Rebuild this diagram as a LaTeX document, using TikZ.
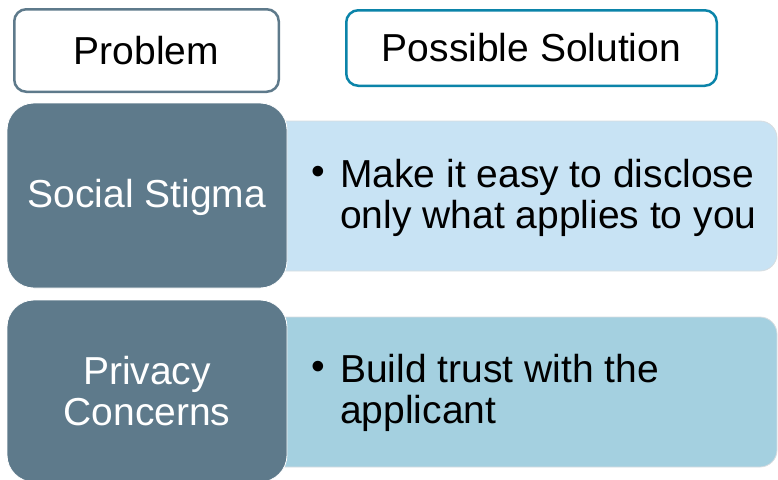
\documentclass[tikz,border=0pt]{standalone}
\usepackage{fontspec}
\setmainfont{Liberation Sans}
\definecolor{slate}{HTML}{5E7A8B}
\definecolor{solborder}{HTML}{0B84A9}
\definecolor{paleblue}{HTML}{C8E3F4}
\definecolor{midblue}{HTML}{A4D0E0}
\definecolor{edgegray}{HTML}{D8DDE0}
\newcommand{\bigtext}{\fontsize{39pt}{40.5pt}\selectfont}
\tikzset{
  header/.style={rectangle, rounded corners=12pt, line width=2.5pt, fill=white,
    inner sep=0pt, font=\bigtext, text=black},
  probbox/.style={rectangle, rounded corners=27pt, fill=slate, draw=white,
    line width=0.8pt, inner sep=0pt, minimum width=280pt, font=\bigtext,
    text=white, align=center},
  solbox/.style={rectangle, rounded corners=17pt, draw=edgegray, line width=0.8pt,
    inner sep=0pt, minimum width=527pt, minimum height=150pt},
  soltext/.style={anchor=west, inner sep=0pt, font=\bigtext, text=black, align=left},
  bullet/.style={inner sep=0pt, font=\bigtext, text=black}
}
\begin{document}
\begin{tikzpicture}[x=1pt, y=-1pt]
  \useasboundingbox (0,0) rectangle (778,479);

  % column headers
  \node[header, draw=slate, minimum width=264.5pt, minimum height=82.5pt]
    (hprob) at (146.5,50.5) {Problem};
  \node[header, draw=solborder, minimum width=370.5pt, minimum height=75.5pt]
    (hsol) at (531.5,48) {Possible Solution};

  % solution panels (drawn first, tucked under the problem boxes)
  \node[solbox, fill=paleblue] (sol1) at (513.5,196) {};
  \node[solbox, fill=midblue]  (sol2) at (513.5,392) {};

  % problem boxes
  \node[probbox, minimum height=185pt] (prob1) at (147,195.5) {};
  \node[font=\bigtext, text=white, inner sep=0pt] (lab1) at (147,197) {Social Stigma};
  \node[probbox, minimum height=182pt] (prob2) at (147,391) {Privacy\\Concerns};

  % bullet texts
  \node[bullet] (b1) at (318,175.5) {•};
  \node[soltext] (t1) at (340,198) {Make it easy to disclose\\only what applies to you};
  \node[bullet] (b2) at (318,370.5) {•};
  \node[soltext] (t2) at (340,393) {Build trust with the\\applicant};
\end{tikzpicture}
\end{document}
